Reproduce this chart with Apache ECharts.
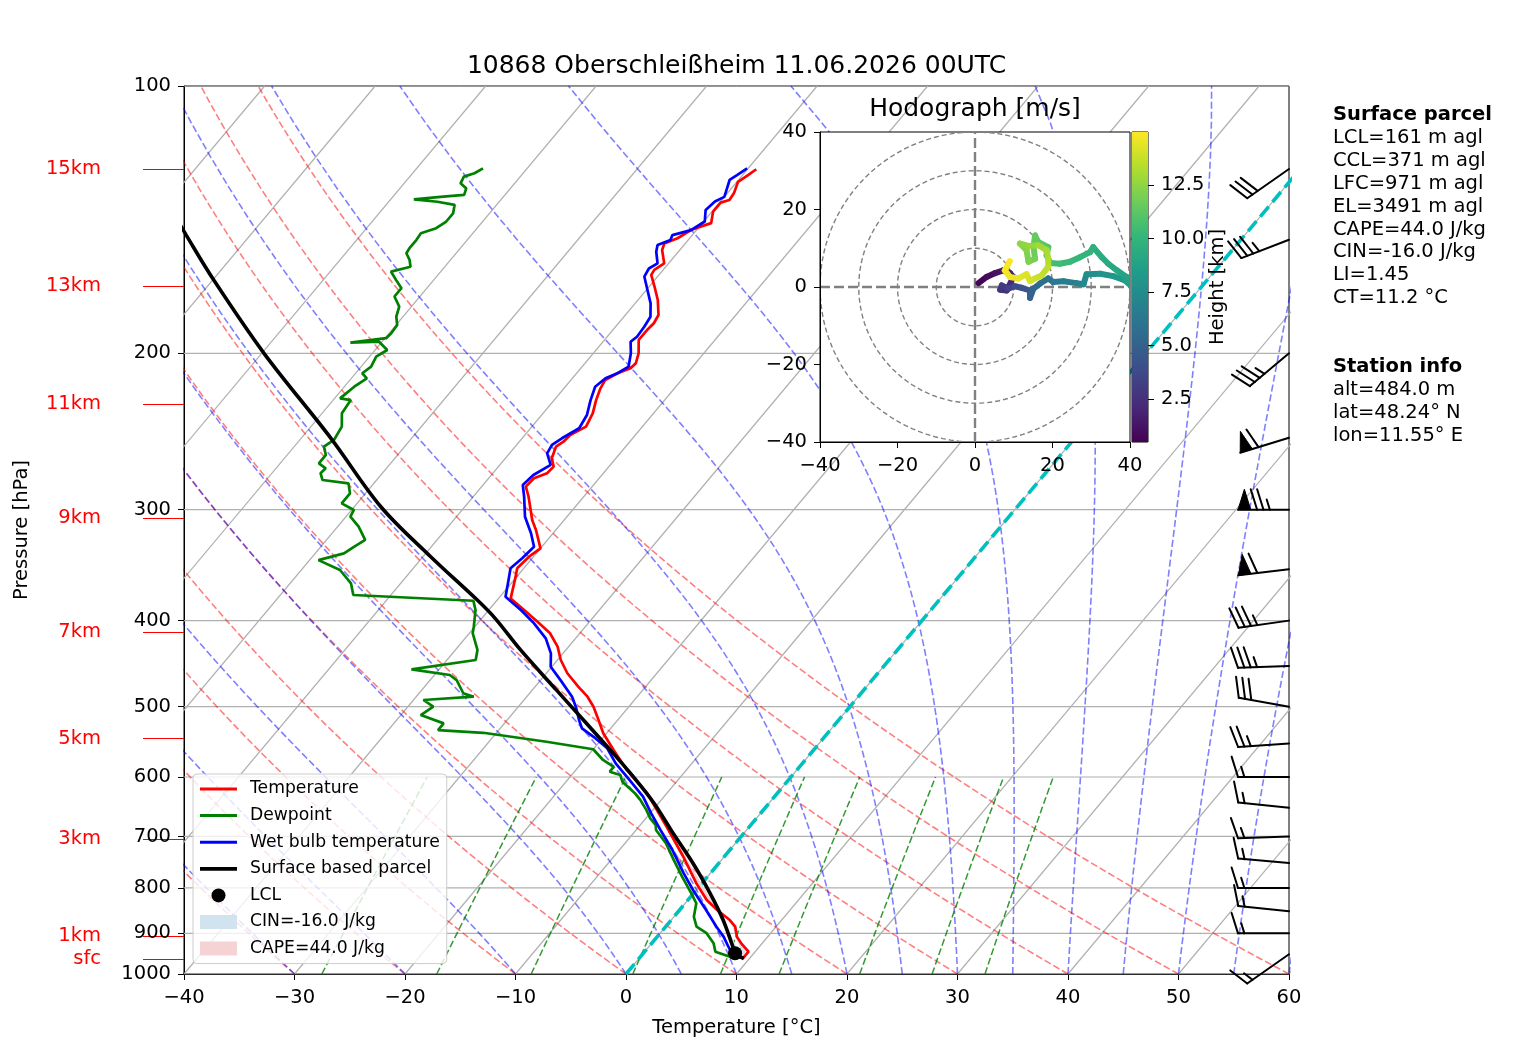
<!DOCTYPE html>
<html><head><meta charset="utf-8">
<script src="https://cdn.jsdelivr.net/npm/echarts@6/dist/echarts.min.js"></script>
<style>html,body{margin:0;padding:0;background:#fff}#chart{width:1517px;height:1060px}</style>
</head><body><div id="chart"></div>
<script>
// ---------------- data ----------------
const pressureTicks = [100, 200, 300, 400, 500, 600, 700, 800, 900, 1000];
const heightLabelP = [124, 168, 228, 306.5, 412, 543, 704.6, 906, 962.6];
const heightLabelText = ['15km', '13km', '11km', '9km', '7km', '5km', '3km', '1km', 'sfc'];
const isotherms = [-110, -100, -90, -80, -70, -60, -50, -40, -30, -20, -10, 0, 10, 20, 30, 40, 50, 60];
const dryAdiabatT0 = [-40, -30, -20, -10, 0, 10, 20, 30, 40, 50, 60];
const moistAdiabatT0 = [-40, -30, -20, -10, 0, 5, 10, 15, 20, 25, 30, 35, 40, 45, 50, 55, 60];
const mixingRatios = [0.0004, 0.001, 0.002, 0.004, 0.007, 0.01, 0.016, 0.024, 0.032];
const mixingP = [1000, 950, 900, 850, 800, 750, 700, 650, 600];
const hodoRings = [10, 20, 30, 40];
const cbTicks = [2.5, 5, 7.5, 10, 12.5];

const tempP = [124.1,126.0,128.2,132.1,134.4,135.3,138.5,142.7,144.0,145.3,148.4,150.4,153.0,158.4,161.1,163.2,168.3,174.2,181.1,185.0,188.3,193.2,200.0,205.2,207.9,210.6,214.3,219.0,225.8,233.7,241.9,247.2,251.5,254.8,262.6,268.3,272.9,276.5,282.6,290.0,300.2,308.1,316.2,331.6,338.9,349.2,356.9,377.6,389.2,401.2,413.3,427.9,443.0,458.5,474.7,487.2,500.0,513.1,535.7,559.4,589.1,625.7,682.4,737.8,790.6,825.5,847.2,869.4,884.6,907.7,923.5,943.8,961];
const tempT = [-49.2,-49.5,-49.9,-49.4,-49.3,-49.9,-49.9,-49.2,-49.9,-50.5,-51.1,-51.9,-51.6,-50.4,-50.8,-50.7,-49.5,-48.2,-47.0,-46.8,-46.9,-46.9,-45.9,-45.4,-45.5,-46.3,-46.9,-46.7,-46.2,-45.5,-45.1,-45.9,-46.0,-46.3,-45.8,-45.0,-45.1,-45.9,-46.0,-45.0,-43.8,-42.9,-41.8,-40.0,-40.4,-40.6,-40.1,-38.9,-36.8,-34.7,-32.7,-31.0,-29.7,-28.1,-26.1,-24.5,-23.2,-22.1,-20.3,-18.1,-15.4,-11.8,-7.5,-3.7,-0.5,1.7,3.4,5.3,6.3,7.2,8.1,9.4,9.4];

const dewP = [123.8,125.4,126.5,128.7,130.4,132.6,133.3,134.2,135.0,136.1,139.1,142.1,144.6,146.5,149.1,152.3,154.3,157.0,159.8,161.8,165.4,168.9,172.6,177.2,181.9,185.8,189.9,192.3,194.5,194.0,198.3,201.7,207.0,210.6,213.4,218.1,224.8,225.8,233.7,241.9,250.4,254.8,260.3,266.0,269.5,272.9,277.8,280.2,287.6,295.1,300.2,305.5,313.5,324.5,330.3,336.0,341.9,350.8,363.1,374.3,379.9,389.2,406.3,413.3,431.6,443.0,453.9,460.6,466.7,482.9,487.2,491.4,500.0,510.9,522.1,531.2,535.0,547.6,558.4,574.1,584.6,591.8,596.9,607.3,625.7,636.7,653.4,668.0,679.6,688.3,712.4,744.4,777.0,811.3,832.4,862.0,884.6,899.7,923.5,943.8,956.1,961];
const dewT = [-74.0,-74.4,-75.1,-74.9,-74.0,-73.7,-75.7,-77.9,-75.6,-73.8,-73.3,-73.3,-73.7,-74.7,-74.6,-74.6,-74.5,-73.7,-73.1,-74.5,-73.4,-72.3,-72.3,-71.1,-70.6,-69.9,-69.8,-69.9,-72.8,-70.3,-68.9,-69.4,-69.1,-69.4,-68.6,-69.1,-69.5,-68.4,-68.2,-67.2,-66.9,-67.3,-66.5,-66.5,-65.5,-65.6,-64.9,-62.3,-61.4,-61.4,-59.8,-59.6,-58.1,-56.5,-57.0,-57.4,-59.2,-56.5,-54.5,-53.4,-42.1,-41.2,-40.1,-39.7,-38.0,-37.4,-42.5,-38.6,-37.6,-36.0,-34.8,-39.1,-37.7,-38.2,-35.5,-35.5,-31.2,-24.8,-20.0,-18.3,-16.8,-16.8,-15.6,-14.9,-12.9,-11.9,-10.6,-9.6,-8.6,-8.2,-6.3,-4.3,-2.3,-0.2,1.0,1.8,2.8,4.2,5.6,6.4,8.1,8.8];

const wbP = [123.8,126.0,127.6,130.4,133.3,134.9,137.9,142.1,145.3,147.2,149.1,151.0,153.7,158.4,160.5,163.9,169.7,175.7,181.9,186.7,191.6,194.1,200.0,207.0,210.6,213.4,218.1,225.8,234.7,242.9,249.3,253.6,259.2,267.1,274.2,281.4,290.0,305.5,318.9,330.3,340.3,349.2,359.9,375.9,389.2,402.8,418.8,435.4,450.8,466.7,487.2,500.0,517.6,528.9,542.9,557.0,579.1,604.5,631.3,659.2,688.3,725.0,770.4,804.3,847.2,884.6,907.7,931.7,956.1];
const wbT = [-50.1,-50.5,-50.8,-50.4,-50.0,-50.5,-50.7,-49.9,-50.5,-51.8,-51.6,-52.4,-52.0,-51.0,-51.4,-51.2,-49.9,-48.6,-47.6,-47.4,-47.3,-47.5,-46.6,-45.8,-46.3,-47.0,-47.3,-46.7,-45.9,-45.6,-46.4,-46.8,-46.6,-45.4,-46.2,-46.4,-45.4,-43.8,-42.0,-40.7,-40.9,-41.2,-40.5,-39.5,-37.1,-34.9,-32.7,-31.1,-30.1,-28.2,-25.9,-24.8,-23.5,-22.6,-20.6,-18.8,-16.9,-14.4,-11.9,-9.9,-7.8,-5.2,-2.4,-0.3,2.4,4.6,6.0,7.2,8.4];

const parcelP = [961, 947.7, 931.7, 869.4, 811.3, 750.8, 694.3, 642.3, 599.5, 559.4, 517.6, 479.0, 431.6, 397.6, 379.2, 338.9, 297.7, 249.3, 200.0, 165.4, 147.2, 130];
const parcelT = [9.5, 8.3, 7.6, 4.7, 1.5, -2.3, -6.4, -10.4, -14.3, -18.4, -23.1, -27.8, -34.1, -38.8, -41.8, -49.3, -57.6, -67.3, -79.8, -89.9, -95.8, -102.0];
const lclPoint = [947.7, 8.3];

const barbP = [124, 149, 200, 249, 300, 350, 400, 450, 500, 550, 600, 650, 700, 750, 800, 850, 900, 950];
const barbDir = [235, 249, 230, 253, 270, 263, 262, 268, 280, 266, 270, 276, 268, 275, 270, 276, 270, 235];
const barbSpd = [30, 35, 35, 60, 75, 60, 35, 35, 30, 25, 15, 15, 15, 15, 15, 15, 15, 15];

const hodoH = [0.49,0.8,1.1,1.4,1.7,2.0,2.3,2.6,2.9,3.2,3.6,4.0,4.5,4.8,5.1,5.5,5.9,6.2,6.5,6.9,7.2,7.5,7.8,8.1,8.4,8.6,8.8,9.0,9.2,9.4,9.6,9.8,10.0,10.2,10.4,10.6,10.8,11.0,11.2,11.4,11.6,11.8,12.0,12.2,12.4,12.6,12.8,13.0,13.2,13.4,13.6,13.8,14.0,14.2,14.4,14.6,14.8,14.98];
const hodoU = [0.9,3.0,5.2,7.3,9.0,9.9,8.2,6.5,6.9,8.6,10.3,12.0,14.2,14.2,15.1,16.8,18.9,20.2,22.8,26.2,28.0,28.8,32.3,35.7,38.7,39.6,39.1,36.6,34.4,32.7,30.5,29.7,27.1,24.5,21.9,19.4,18.5,18.9,16.3,15.5,15.1,15.5,13.8,13.3,11.6,13.8,16.3,18.5,18.9,18.9,17.2,15.5,14.2,13.3,11.2,9.0,7.7,9.0];
const hodoV = [1.0,2.6,3.6,4.3,3.6,2.6,-0.9,-0.7,0.4,-0.4,0.2,-0.2,-0.9,-2.8,-0.4,0.9,2.2,1.3,1.5,1.0,0.7,3.3,3.4,2.8,1.7,0.9,2.6,4.3,6.0,7.7,10.3,9.0,7.7,6.5,6.0,6.2,8.2,10.3,11.6,13.3,10.3,7.3,6.5,9.5,11.2,10.6,10.8,9.5,7.3,5.2,3.0,2.2,1.5,3.3,2.2,2.6,4.3,6.7];

const infoLines = [
  {t:'Surface parcel', b:true}, {t:'LCL=161 m agl'}, {t:'CCL=371 m agl'}, {t:'LFC=971 m agl'},
  {t:'EL=3491 m agl'}, {t:'CAPE=44.0 J/kg'}, {t:'CIN=-16.0 J/kg'}, {t:'LI=1.45'}, {t:'CT=11.2 °C'},
  {t:''}, {t:''}, {t:'Station info', b:true}, {t:'alt=484.0 m'}, {t:'lat=48.24° N'}, {t:'lon=11.55° E'}
];

// ---------------- helpers ----------------
const FONT = 'DejaVu Sans';
const S = 67.3;               // skew (deg C per decade of pressure)
const L10 = Math.log10;
function sx(T, p) { return T + S * L10(1000 / p); }
function profile(P, T) { return P.map((p, i) => [sx(T[i], p), L10(p)]); }
const minus = v => (v < 0 ? '\u2212' + Math.abs(v) : String(v));
const viridisStops = ['#440154','#482878','#3e4989','#31688e','#26828e','#1f9e89','#35b779','#6ece58','#b5de2b','#fde725'];
function hex2rgb(h){return [parseInt(h.substr(1,2),16),parseInt(h.substr(3,2),16),parseInt(h.substr(5,2),16)];}
function viridis(f){
  f = Math.max(0, Math.min(1, f));
  const x = f * (viridisStops.length - 1), i = Math.min(Math.floor(x), viridisStops.length - 2), t = x - i;
  const a = hex2rgb(viridisStops[i]), b = hex2rgb(viridisStops[i + 1]);
  return 'rgb(' + a.map((c, k) => Math.round(c + (b[k] - c) * t)).join(',') + ')';
}
const hMin = Math.min(...hodoH), hMax = Math.max(...hodoH);

// reference lines
const logSteps = []; for (let i = 0; i <= 60; i++) logSteps.push(1000 * Math.pow(10, -i / 60));
const isoLines = isotherms.map(T => ({coords: [[sx(T, 1000), 3], [sx(T, 100), 2]]}));
const pLines = pressureTicks.map(p => ({coords: [[-40, L10(p)], [60, L10(p)]]}));
const dryLines = dryAdiabatT0.map(t0 => ({coords: logSteps.map(p => [sx((t0 + 273.15) * Math.pow(p / 1000, 0.28571) - 273.15, p), L10(p)])}));
function moistPath(t0) {
  const Rd = 287.04749, Cp = 1004.6662, Lv = 2.50084e6, eps = 0.6219569;
  const es = T => 6.112 * Math.exp(17.67 * (T - 273.15) / (T - 29.65));
  const f = (p, T) => { const e = es(T); const rs = eps * e / (p - e); return (Rd * T + Lv * rs) / (Cp + Lv * Lv * rs * eps / (Rd * T * T)) / p; };
  let T = t0 + 273.15, p = 1000; const pts = [[sx(t0, 1000), 3]];
  const n = 90, h = -900 / n;
  for (let i = 0; i < n; i++) {
    const k1 = f(p, T), k2 = f(p + h / 2, T + h / 2 * k1), k3 = f(p + h / 2, T + h / 2 * k2), k4 = f(p + h, T + h * k3);
    T += h / 6 * (k1 + 2 * k2 + 2 * k3 + k4); p += h;
    pts.push([sx(T - 273.15, p), L10(p)]);
  }
  return pts;
}
const moistLines = moistAdiabatT0.map(t0 => ({coords: moistPath(t0)}));
const mixLines = mixingRatios.map(w => ({coords: mixingP.map(p => {
  const e = p * w / (0.6219569 + w); const a = Math.log(e / 6.112);
  return [sx(243.5 * a / (17.67 - a), p), L10(p)];
})}));
const ringLines = hodoRings.map(r => { const c = []; for (let a = 0; a <= 360; a += 3) c.push([r * Math.cos(a * Math.PI / 180), r * Math.sin(a * Math.PI / 180)]); return {coords: c}; });
const crossLines = [{coords: [[-40, 0], [40, 0]]}, {coords: [[0, -40], [0, 40]]}];

const hodoSegs = [];
for (let i = 0; i < hodoU.length - 1; i++) hodoSegs.push([hodoU[i], hodoV[i], hodoU[i + 1], hodoV[i + 1], (hodoH[i] + hodoH[i + 1]) / 2]);
const barbData = barbP.map((p, i) => [p, barbDir[i], barbSpd[i]]);

function rangePoly(P, T, lo, hi) { const o = []; P.forEach((p, i) => { if (p >= lo && p <= hi) o.push([sx(T[i], p), L10(p)]); }); return o; }
function areaSeries(name, color, lo, hi) {
  return {
    name, type: 'custom', xAxisIndex: 0, yAxisIndex: 0, z: 2, silent: true, itemStyle: {color},
    data: [[0, 2.5]],
    renderItem: function (params, api) {
      const a = rangePoly(parcelP, parcelT, lo, hi), b = rangePoly(tempP, tempT, lo, hi).reverse();
      const pts = a.concat(b).map(q => api.coord(q));
      return {type: 'polygon', shape: {points: pts}, style: {fill: color}};
    }
  };
}

function lineSet(data, color, width, dash, xi, yi, z) {
  return {type: 'lines', coordinateSystem: 'cartesian2d', xAxisIndex: xi, yAxisIndex: yi, polyline: true, silent: true, clip: true, z: z,
    data, lineStyle: {color, width, type: dash, opacity: 1}};
}

const axisFont = {fontSize: 19.5, color: '#000', fontFamily: FONT};
const pLog = pressureTicks.map(L10), hLog = heightLabelP.map(L10);
const lineIcon = 'path://M0,0H37V3H0Z';
const thickIcon = 'path://M0,0H37V3.8H0Z';

const option = {
  animation: false,
  backgroundColor: '#fff',
  textStyle: {fontFamily: FONT},
  grid: [
    {left: 184, top: 86, width: 1105, height: 888, show: true, borderColor: '#000', borderWidth: 1, backgroundColor: 'transparent', outerBoundsMode: 'none'},
    {left: 820, top: 132, width: 310, height: 310, show: true, borderColor: '#000', borderWidth: 1, backgroundColor: '#fff', z: 10, outerBoundsMode: 'none'},
    {left: 1132, top: 132, width: 16, height: 310, show: true, borderColor: '#000', borderWidth: 1, backgroundColor: '#fff', z: 10, outerBoundsMode: 'none'}
  ],
  xAxis: [
    {type: 'value', gridIndex: 0, min: -40, max: 60, interval: 10,
      axisLine: {onZero: false, lineStyle: {color: '#000', width: 1}}, axisTick: {length: 6, lineStyle: {color: '#000'}},
      axisLabel: Object.assign({margin: 14, formatter: minus}, axisFont), splitLine: {show: false},
      name: 'Temperature [°C]', nameLocation: 'middle', nameGap: 44, nameTextStyle: axisFont},
    {type: 'value', gridIndex: 1, min: -40, max: 40, interval: 20, z: 12,
      axisLine: {onZero: false, lineStyle: {color: '#000'}}, axisTick: {length: 6, lineStyle: {color: '#000'}},
      axisLabel: Object.assign({margin: 14, formatter: minus}, axisFont), splitLine: {show: false}},
    {type: 'value', gridIndex: 2, min: 0, max: 1, show: false}
  ],
  yAxis: [
    {type: 'value', gridIndex: 0, inverse: true, min: 2, max: 3, position: 'left',
      axisLine: {onZero: false, lineStyle: {color: '#000'}},
      axisTick: {length: 6, customValues: pLog, lineStyle: {color: '#000'}},
      axisLabel: Object.assign({margin: 13, customValues: pLog, formatter: v => String(Math.round(Math.pow(10, v)))}, axisFont),
      splitLine: {show: false},
      name: 'Pressure [hPa]', nameLocation: 'middle', nameGap: 152, nameRotate: 90, nameTextStyle: axisFont},
    {type: 'value', gridIndex: 0, inverse: true, min: 2, max: 3, position: 'left', offset: 0,
      axisLine: {show: false, onZero: false},
      axisTick: {length: 41, customValues: hLog, lineStyle: {color: '#ff0000', width: 1}},
      axisLabel: {margin: 83, customValues: hLog, fontSize: 19.5, color: '#ff0000', fontFamily: FONT,
        formatter: v => { let k = 0, best = 1e9; hLog.forEach((h, i) => { const d = Math.abs(h - v); if (d < best) { best = d; k = i; } }); return heightLabelText[k]; }},
      splitLine: {show: false}},
    {type: 'value', gridIndex: 1, min: -40, max: 40, interval: 20, z: 12,
      axisLine: {onZero: false, lineStyle: {color: '#000'}}, axisTick: {length: 6, lineStyle: {color: '#000'}},
      axisLabel: Object.assign({margin: 13, formatter: minus}, axisFont), splitLine: {show: false}},
    {type: 'value', gridIndex: 2, min: hMin, max: hMax, position: 'right', z: 12,
      axisLine: {show: false, onZero: false},
      axisTick: {length: 6, customValues: cbTicks, lineStyle: {color: '#000'}},
      axisLabel: Object.assign({margin: 13, customValues: cbTicks, formatter: v => Number(v).toFixed(1)}, axisFont),
      splitLine: {show: false},
      name: 'Height [km]', nameLocation: 'middle', nameGap: 56, nameRotate: 90, nameTextStyle: axisFont}
  ],
  legend: {
    orient: 'vertical', left: 193, top: 774, selectedMode: false, z: 6,
    backgroundColor: 'rgba(255,255,255,0.8)', borderColor: '#cccccc', borderWidth: 1, borderRadius: 4,
    padding: [5, 7, 5, 7], itemGap: 6.6, itemWidth: 37, itemHeight: 14, symbolKeepAspect: true,
    textStyle: {fontSize: 17.2, color: '#000', fontFamily: FONT, lineHeight: 20, padding: [0, 0, 0, 8]},
    data: [
      {name: 'Temperature', icon: lineIcon}, {name: 'Dewpoint', icon: lineIcon}, {name: 'Wet bulb temperature', icon: lineIcon},
      {name: 'Surface based parcel', icon: thickIcon},
      {name: 'LCL', icon: 'circle', itemStyle: {color: '#000', opacity: 1}}, {name: 'CIN=-16.0 J/kg', icon: 'rect'}, {name: 'CAPE=44.0 J/kg', icon: 'rect'}
    ]
  },
  graphic: {elements: [
    {type: 'text', x: 736.5, y: 66, z: 20, style: {text: '10868 Oberschleißheim 11.06.2026 00UTC', font: '25px "DejaVu Sans"', fill: '#000', align: 'center', verticalAlign: 'middle', textAlign: 'center', textVerticalAlign: 'middle'}},
    {type: 'text', x: 975, y: 109, z: 20, style: {text: 'Hodograph [m/s]', font: '25px "DejaVu Sans"', fill: '#000', align: 'center', verticalAlign: 'middle', textAlign: 'center', textVerticalAlign: 'middle'}}
  ].concat(infoLines.map((l, i) => ({type: 'text', x: 1333, y: 115 + i * 22.9, z: 20,
    style: {text: l.t, font: (l.b ? 'bold ' : '') + '19.5px "DejaVu Sans"', fill: '#000', align: 'left', verticalAlign: 'middle', textAlign: 'left', textVerticalAlign: 'middle'}})))},
  series: [
    lineSet(isoLines, '#b0b0b0', 1.2, 'solid', 0, 0, 1),
    lineSet(pLines, '#b0b0b0', 1.2, 'solid', 0, 0, 1),
    lineSet(dryLines, 'rgba(255,0,0,0.5)', 1.6, [7, 3], 0, 0, 1),
    lineSet(moistLines, 'rgba(0,0,255,0.5)', 1.6, [7, 3], 0, 0, 1),
    lineSet(mixLines, 'rgba(0,128,0,0.8)', 1.5, [7, 3], 0, 0, 1),
    lineSet([{coords: [[0, 3], [S, 2]]}], '#00bfbf', 3.6, [13, 6], 0, 0, 2),
    areaSeries('CIN=-16.0 J/kg', '#d2e3f0', 869, 961),
    areaSeries('CAPE=44.0 J/kg', '#f5d3d4', 640, 869),
    {name: 'Temperature', type: 'line', xAxisIndex: 0, yAxisIndex: 0, data: profile(tempP, tempT), symbol: 'none', clip: true, z: 3, color: '#ff0000', lineStyle: {color: '#ff0000', width: 2.7}},
    {name: 'Dewpoint', type: 'line', xAxisIndex: 0, yAxisIndex: 0, data: profile(dewP, dewT), symbol: 'none', clip: true, z: 3, color: '#008000', lineStyle: {color: '#008000', width: 2.7}},
    {name: 'Wet bulb temperature', type: 'line', xAxisIndex: 0, yAxisIndex: 0, data: profile(wbP, wbT), symbol: 'none', clip: true, z: 3, color: '#0000ff', lineStyle: {color: '#0000ff', width: 2.7}},
    {name: 'Surface based parcel', type: 'line', xAxisIndex: 0, yAxisIndex: 0, data: profile(parcelP, parcelT), symbol: 'none', smooth: 0.35, clip: true, z: 4, color: '#000', lineStyle: {color: '#000', width: 3.6}},
    {name: 'LCL', type: 'scatter', xAxisIndex: 0, yAxisIndex: 0, data: [[sx(lclPoint[1], lclPoint[0]), L10(lclPoint[0])]], symbol: 'circle', symbolSize: 14, z: 5, color: '#000', itemStyle: {color: '#000', opacity: 1}},
    {name: 'barbs', type: 'custom', xAxisIndex: 0, yAxisIndex: 0, z: 5, silent: true, data: barbData,
      renderItem: function (params, api) {
        const p = api.value(0), dir = api.value(1), spd = api.value(2);
        const base = api.coord([60, L10(p)]);
        const th = dir * Math.PI / 180;
        const d = [Math.sin(th), -Math.cos(th)], n = [-d[1], d[0]];
        const Lb = 51, sp = 0.125 * Lb, hg = 0.4 * Lb, wd = 0.25 * Lb;
        const P = (a, h) => [base[0] + d[0] * a + n[0] * h, base[1] + d[1] * a + n[1] * h];
        const seg = (a, b) => ({type: 'line', shape: {x1: a[0], y1: a[1], x2: b[0], y2: b[1]}, style: {stroke: '#000', lineWidth: 2, lineCap: 'round'}});
        let s = Math.round(spd / 5) * 5;
        const nf = Math.floor(s / 50); s -= nf * 50;
        const nb = Math.floor(s / 10); s -= nb * 10;
        const half = s >= 5;
        const ch = [seg(base, P(Lb, 0))];
        let off = Lb;
        for (let i = 0; i < nf; i++) {
          if (off !== Lb) off += sp / 2;
          ch.push({type: 'polygon', shape: {points: [P(off, 0), P(off - wd / 2, hg), P(off - wd, 0)]}, style: {fill: '#000', stroke: '#000', lineWidth: 1}});
          off -= wd + sp;
        }
        for (let i = 0; i < nb; i++) { ch.push(seg(P(off, 0), P(off + wd / 2, hg))); off -= sp; }
        if (half) { if (off === Lb) off -= 1.5 * sp; ch.push(seg(P(off, 0), P(off + wd / 4, hg / 2))); }
        return {type: 'group', children: ch};
      }},
    lineSet(ringLines, '#808080', 1.4, [5, 3], 1, 2, 11),
    lineSet(crossLines, '#808080', 2.4, [10, 4], 1, 2, 11),
    {name: 'hodograph', type: 'custom', xAxisIndex: 1, yAxisIndex: 2, z: 12, silent: true, clip: true, data: hodoSegs,
      encode: {x: [0, 2], y: [1, 3]},
      renderItem: function (params, api) {
        const a = api.coord([api.value(0), api.value(1)]), b = api.coord([api.value(2), api.value(3)]);
        return {type: 'line', shape: {x1: a[0], y1: a[1], x2: b[0], y2: b[1]},
          style: {stroke: viridis((api.value(4) - hMin) / (hMax - hMin)), lineWidth: 6, lineCap: 'round'}};
      }},
    {name: 'colorbar', type: 'custom', xAxisIndex: 2, yAxisIndex: 3, z: 12, silent: true, data: [[0.5, (hMin + hMax) / 2]],
      renderItem: function (params, api) {
        const t = api.coord([0, hMax]), b = api.coord([1, hMin]);
        return {type: 'rect', shape: {x: t[0], y: t[1], width: b[0] - t[0], height: b[1] - t[1]},
          style: {fill: new echarts.graphic.LinearGradient(0, 1, 0, 0, viridisStops.map((c, i) => ({offset: i / (viridisStops.length - 1), color: c})))}};
      }}
  ]
};

const chart = echarts.init(document.getElementById('chart'), null, {renderer: 'canvas'});
chart.setOption(option);
</script></body></html>
